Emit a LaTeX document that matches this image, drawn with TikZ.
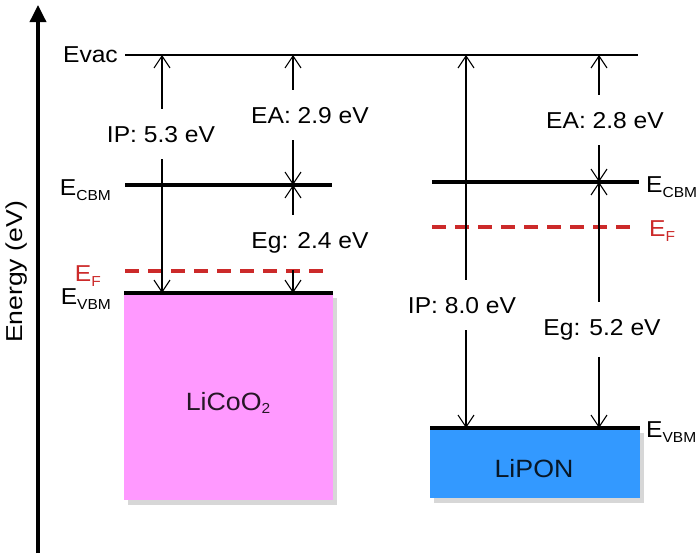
\documentclass[tikz,border=0pt]{standalone}
\usepackage{fontspec}
\setmainfont{Liberation Sans}[FakeStretch=1.07]
\usetikzlibrary{arrows.meta,shadows}

\definecolor{fermired}{HTML}{CC2A2A}
\definecolor{licoopink}{HTML}{FF99FF}
\definecolor{liponblue}{HTML}{3399FF}

\newcommand{\lvsub}[2][-5pt]{\raisebox{#1}{\fontsize{14.5}{15}\selectfont #2}}

\tikzset{
  lbl/.style={font=\fontsize{23}{27}\selectfont, inner sep=0pt},
  boxlbl/.style={font=\fontsize{25}{29}\selectfont, inner sep=0pt, anchor=base},
  gaplbl/.style={lbl, anchor=base, outer ysep=17pt},
  level/.style={line width=4pt},
  fermi/.style={line width=3.5pt, fermired, dash pattern=on 14pt off 9pt},
  gaparrow/.style={line width=1.1pt, -{Straight Barb[length=12pt,width=16pt]}},
  band/.style={draw=none, inner sep=0pt, anchor=north west,
    drop shadow={shadow xshift=4pt, shadow yshift=-5pt, fill=black!45, opacity=0.35}},
}

\begin{document}
\begin{tikzpicture}[x=1pt,y=-1pt]
    \useasboundingbox (0,0) rectangle (700,555);
    % energy axis
    \draw[line width=3.5pt,-{Triangle[length=17pt,width=16pt]}] (38,553) -- (38,5);
    \node[lbl,rotate=90] (axis) at (17,272) {\scalebox{1.08}[1]{Energy (eV)}};

    % bands
    \node[band, fill=licoopink, minimum width=209pt, minimum height=207pt] (licoo) at (124,293) {};
    \node[band, fill=liponblue, minimum width=210pt, minimum height=70pt] (lipon) at (430,428) {};
    \node[boxlbl, text=black!85!licoopink] (licootxt) at (228,410) {LiCoO\lvsub[-3pt]{2}};
    \node[boxlbl, text=black!85!liponblue] (lipontxt) at (534,477) {LiPON};

    % levels
    \coordinate (evacL) at (125,55);  \coordinate (evacR) at (638,55);
    \coordinate (cbm1w) at (125,185); \coordinate (cbm1e) at (332,185);
    \coordinate (ef1w)  at (125,271); \coordinate (ef1e)  at (332,271);
    \coordinate (vbm1w) at (124,293); \coordinate (vbm1e) at (333,293);
    \coordinate (cbm2w) at (432,182); \coordinate (cbm2e) at (639,182);
    \coordinate (ef2w)  at (432,227); \coordinate (ef2e)  at (638,227);
    \coordinate (vbm2w) at (430,428); \coordinate (vbm2e) at (640,428);
    \draw[line width=2.5pt] (evacL) -- (evacR);
    \draw[level] (cbm1w) -- (cbm1e);
    \draw[level] (vbm1w) -- (vbm1e);
    \draw[level] (cbm2w) -- (cbm2e);
    \draw[level] (vbm2w) -- (vbm2e);
    \draw[fermi] (ef1w) -- (ef1e);
    \draw[fermi] (ef2w) -- (ef2e);

    % level labels
    \node[lbl, anchor=east] (evaclbl) at (118,55) {Evac};
    \node[lbl, anchor=base east] (cbm1lbl) at (111,195) {E\lvsub{CBM}};
    \node[lbl, anchor=base east, text=fermired] (ef1lbl) at (101,281) {E\lvsub{F}};
    \node[lbl, anchor=base east] (vbm1lbl) at (111,304) {E\lvsub{VBM}};
    \node[lbl, anchor=base west] (cbm2lbl) at (646,192) {E\lvsub{CBM}};
    \node[lbl, anchor=base west, text=fermired] (ef2lbl) at (649,236) {E\lvsub{F}};
    \node[lbl, anchor=base west] (vbm2lbl) at (646,437) {E\lvsub{VBM}};

    % gap values
    \coordinate (colA) at (162,0);
    \coordinate (colB) at (293,0);
    \coordinate (colC) at (466,0);
    \coordinate (colD) at (599,0);
    \node[gaplbl] (ip1) at (161,142) {IP: 5.3 eV};
    \node[gaplbl] (ea1) at (310,123) {EA: 2.9 eV};
    \node[gaplbl] (eg1) at (310,248) {Eg: 2.4 eV};
    \node[gaplbl] (ea2) at (605,128) {EA: 2.8 eV};
    \node[gaplbl] (ip2) at (462,313) {IP: 8.0 eV};
    \node[gaplbl] (eg2) at (602,335) {Eg: 5.2 eV};
    \foreach \lab/\col/\up/\down in {ip1/colA/evacL/vbm1w, ea1/colB/evacL/cbm1w,
        eg1/colB/cbm1w/vbm1w, ea2/colD/evacL/cbm2w, ip2/colC/evacL/vbm2w, eg2/colD/cbm2w/vbm2w}
    {
        \draw[gaparrow] (\lab.north -| \col) -- (\col |- \up);
        \draw[gaparrow] (\lab.south -| \col) -- (\col |- \down);
    }
\end{tikzpicture}
\end{document}
